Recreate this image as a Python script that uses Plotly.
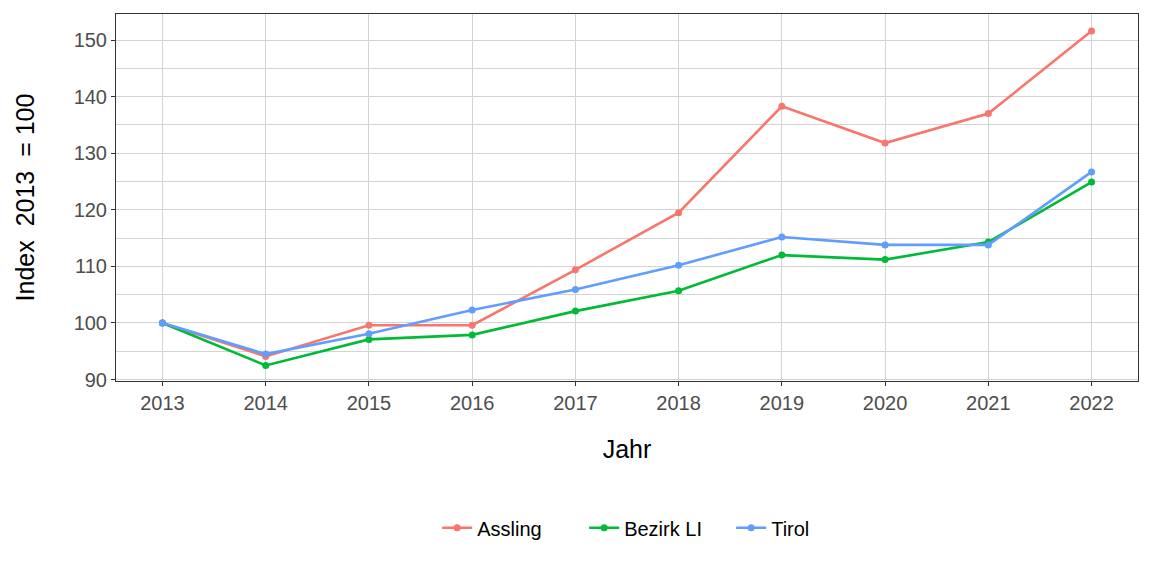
import plotly.graph_objects as go

years = [2013, 2014, 2015, 2016, 2017, 2018, 2019, 2020, 2021, 2022]
assling = [100.0, 94.1, 99.6, 99.6, 109.4, 119.5, 138.3, 131.8, 137.0, 151.6]
bezirk_li = [100.0, 92.5, 97.1, 97.9, 102.1, 105.7, 112.0, 111.2, 114.3, 124.9]
tirol = [100.0, 94.5, 98.1, 102.3, 105.9, 110.2, 115.2, 113.8, 113.8, 126.7]

series = [("Assling", assling, "#F8766D"),
          ("Bezirk LI", bezirk_li, "#00BA38"),
          ("Tirol", tirol, "#619CFF")]

FONT = "Liberation Sans, Arial, sans-serif"

fig = go.Figure()
for name, vals, col in series:
    fig.add_trace(go.Scatter(x=years, y=vals, name=name, mode="lines+markers",
                             line=dict(color=col, width=2.6),
                             marker=dict(color=col, size=7)))

fig.update_layout(
    width=1152, height=576,
    margin=dict(l=116, r=14, t=14, b=195),
    paper_bgcolor="white", plot_bgcolor="white",
    font=dict(family=FONT, size=20, color="#4D4D4D"),
    showlegend=True,
    legend=dict(orientation="h", x=0.53, xanchor="center", y=-0.40, yanchor="middle",
                font=dict(family=FONT, size=20, color="black"),
                entrywidth=102, entrywidthmode="pixels", traceorder="normal"),
)
fig.update_xaxes(
    range=[2012.55, 2022.45], tickmode="array", tickvals=years,
    ticktext=[str(y) for y in years],
    showgrid=True, gridcolor="#D3D3D3", gridwidth=1,
    ticks="outside", ticklen=4, tickcolor="#333333",
    showline=True, linecolor="#333333", linewidth=1, mirror=True,
    zeroline=False,
    title=dict(text="Jahr", font=dict(family=FONT, size=25, color="black"), standoff=27),
    tickfont=dict(size=20, color="#4D4D4D"),
)
fig.update_yaxes(
    range=[89.75, 154.6], tickmode="array", tickvals=[90, 100, 110, 120, 130, 140, 150],
    showgrid=True, gridcolor="#D3D3D3", gridwidth=1,
    minor=dict(tickmode="array", tickvals=[95, 105, 115, 125, 135, 145],
               showgrid=True, gridcolor="#D3D3D3", gridwidth=1),
    ticks="outside", ticklen=4, tickcolor="#333333",
    showline=True, linecolor="#333333", linewidth=1, mirror=True,
    zeroline=False,
    title=dict(text="Index  2013  = 100", font=dict(family=FONT, size=25, color="black"), standoff=31),
    tickfont=dict(size=20, color="#4D4D4D"),
)

fig.write_html("out.html")
